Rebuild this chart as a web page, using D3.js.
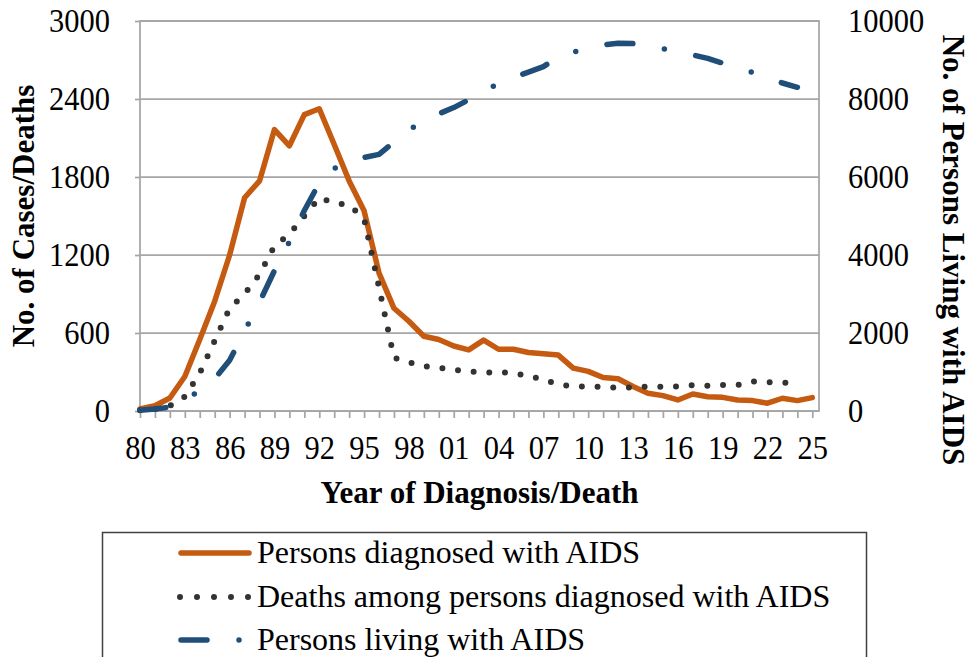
<!DOCTYPE html>
<html>
<head>
<meta charset="utf-8">
<script src="https://cdn.jsdelivr.net/npm/d3@7"></script>
</head>
<body style="margin:0; background:#fff">
<script>
// years on the x axis
var years = d3.range(1980, 2026);

// persons diagnosed with AIDS, 1980-2025 (left axis)
var diagnosed = [15, 40, 100, 265, 550, 845, 1200, 1640, 1770, 2165,
  2040, 2280, 2325, 2050, 1770, 1540, 1060, 790, 690, 575,
  550, 500, 470, 545, 475, 475, 450, 440, 430, 330,
  305, 258, 248, 188, 137, 118, 85, 131, 110, 105,
  85, 80, 60, 98, 80, 103];

// deaths among persons diagnosed with AIDS, 1980-2024 (left axis)
var deaths = [5, 15, 40, 110, 290, 540, 790, 900, 1050, 1270,
  1360, 1500, 1640, 1600, 1585, 1480, 950, 410, 375, 345,
  332, 318, 305, 295, 300, 290, 272, 240, 205, 190,
  187, 185, 178, 182, 187, 187, 188, 198, 195, 200,
  200, 228, 222, 218, 215];

// persons living with AIDS, 1980-2024 (right axis)
var living = [20, 50, 100, 250, 540, 830, 1300, 2050, 2790, 3600,
  4340, 5140, 5850, 6220, 6420, 6500, 6580, 6900, 7200, 7460,
  7620, 7780, 7980, 8185, 8400, 8555, 8690, 8830, 9080, 9200,
  9320, 9390, 9430, 9420, 9360, 9290, 9210, 9130, 9040, 8920,
  8830, 8680, 8530, 8410, 8300];

var leftTicks = [0, 600, 1200, 1800, 2400, 3000];
var rightTicks = [0, 2000, 4000, 6000, 8000, 10000];

var legendLabels = [
  "Persons diagnosed with AIDS",
  "Deaths among persons diagnosed with AIDS",
  "Persons living with AIDS"
];

var serif = "Liberation Serif";
var orange = "#c55a11", dark = "#333333", blue = "#1f4e79", grid = "#a6a6a6";

var plot = { left: 140, right: 819, top: 21, bottom: 411 };

var svg = d3.select("body").append("svg")
  .attr("width", 970)
  .attr("height", 657);

var x = d3.scaleLinear().domain([1980, 2025]).range([140, 812.3]);
var yL = d3.scaleLinear().domain([0, 3000]).range([plot.bottom, plot.top]);
var yR = d3.scaleLinear().domain([0, 10000]).range([plot.bottom, plot.top]);

// gridlines
svg.append("g").selectAll("line")
  .data(leftTicks)
  .enter().append("line")
  .attr("x1", plot.left).attr("x2", plot.right)
  .attr("y1", function (d) { return yL(d); })
  .attr("y2", function (d) { return yL(d); })
  .attr("stroke", grid)
  .attr("stroke-width", 1.75);

// plot border
svg.append("rect")
  .attr("x", plot.left).attr("y", plot.top)
  .attr("width", plot.right - plot.left)
  .attr("height", plot.bottom - plot.top)
  .attr("fill", "none")
  .attr("stroke", grid)
  .attr("stroke-width", 1.75);

// axes
var xAxis = svg.append("g")
  .attr("transform", "translate(0," + plot.bottom + ")")
  .call(d3.axisBottom(x)
    .tickValues(years)
    .tickSize(7)
    .tickPadding(14)
    .tickFormat(function (d) {
      return (d - 1980) % 3 === 0 ? String(d % 100).padStart(2, "0") : "";
    }));

var leftAxis = svg.append("g")
  .attr("transform", "translate(" + plot.left + ",0)")
  .call(d3.axisLeft(yL).tickValues(leftTicks).tickSize(5).tickPadding(25)
    .tickFormat(d3.format("d")));

var rightAxis = svg.append("g")
  .attr("transform", "translate(" + plot.right + ",0)")
  .call(d3.axisRight(yR).tickValues(rightTicks).tickSize(0).tickPadding(29)
    .tickFormat(d3.format("d")));

[xAxis, leftAxis, rightAxis].forEach(function (g) {
  g.attr("font-size", 30.5).attr("font-family", serif);
  g.select(".domain").remove();
  g.selectAll(".tick line").attr("stroke", grid).attr("stroke-width", 1.75);
  // tick digits in the original are a little taller than wide
  g.selectAll(".tick text").attr("fill", "#000").attr("transform", "scale(1,1.12)");
});

// axis titles
svg.append("text")
  .attr("transform", "translate(23," + ((plot.top + plot.bottom) / 2) + ") rotate(-90)")
  .attr("text-anchor", "middle")
  .attr("dominant-baseline", "central")
  .attr("font-size", 31)
  .attr("font-weight", "bold")
  .text("No. of Cases/Deaths");

svg.append("text")
  .attr("transform", "translate(953,250) rotate(90)")
  .attr("text-anchor", "middle")
  .attr("dominant-baseline", "central")
  .attr("font-size", 31)
  .attr("font-weight", "bold")
  .text("No. of Persons Living with AIDS");

svg.append("text")
  .attr("x", (plot.left + plot.right) / 2)
  .attr("y", 503)
  .attr("text-anchor", "middle")
  .attr("font-size", 31)
  .attr("font-weight", "bold")
  .text("Year of Diagnosis/Death");

// series
var lineL = d3.line()
  .x(function (d, i) { return x(years[i]); })
  .y(function (d) { return yL(d); });

var lineR = d3.line()
  .x(function (d, i) { return x(years[i]); })
  .y(function (d) { return yR(d); });

var styles = [
  { color: orange, width: 5.5, dash: null },
  { color: dark, width: 6, dash: "0,15.7" },
  { color: blue, width: 5.5, dash: "26,32,0,32" }
];

svg.append("path")
  .datum(diagnosed)
  .attr("d", lineL)
  .attr("fill", "none")
  .attr("stroke", orange)
  .attr("stroke-width", styles[0].width)
  .attr("stroke-linejoin", "round")
  .attr("stroke-linecap", "round");

svg.append("path")
  .datum(deaths)
  .attr("d", lineL)
  .attr("fill", "none")
  .attr("stroke", dark)
  .attr("stroke-width", styles[1].width)
  .attr("stroke-dasharray", styles[1].dash)
  .attr("stroke-linecap", "round");

svg.append("path")
  .datum(living)
  .attr("d", lineR)
  .attr("fill", "none")
  .attr("stroke", blue)
  .attr("stroke-width", styles[2].width)
  .attr("stroke-dasharray", styles[2].dash)
  .attr("stroke-linejoin", "round")
  .attr("stroke-linecap", "round");

// legend
svg.append("rect")
  .attr("x", 102.5).attr("y", 532.5)
  .attr("width", 764).attr("height", 200)
  .attr("fill", "none")
  .attr("stroke", "#404040")
  .attr("stroke-width", 1.5);

var rowY = [553, 597, 640];

var legend = svg.append("g").selectAll("g")
  .data(legendLabels)
  .enter().append("g")
  .attr("transform", function (d, i) { return "translate(0," + rowY[i] + ")"; });

legend.append("line")
  .attr("x1", function (d, i) { return i === 1 ? 180 : 181; })
  .attr("x2", function (d, i) { return i === 2 ? 240 : 249; })
  .attr("stroke", function (d, i) { return styles[i].color; })
  .attr("stroke-width", function (d, i) { return styles[i].width; })
  .attr("stroke-dasharray", function (d, i) {
    return i === 1 ? "0,17" : (i === 2 ? "26,32,0,32" : null);
  })
  .attr("stroke-linecap", "round");

legend.append("text")
  .attr("x", 257)
  .attr("y", 10)
  .attr("font-size", 32)
  .text(function (d) { return d; });

// serif everywhere, set inline on each text
svg.selectAll("text").style("font-family", serif);
</script>
</body>
</html>
